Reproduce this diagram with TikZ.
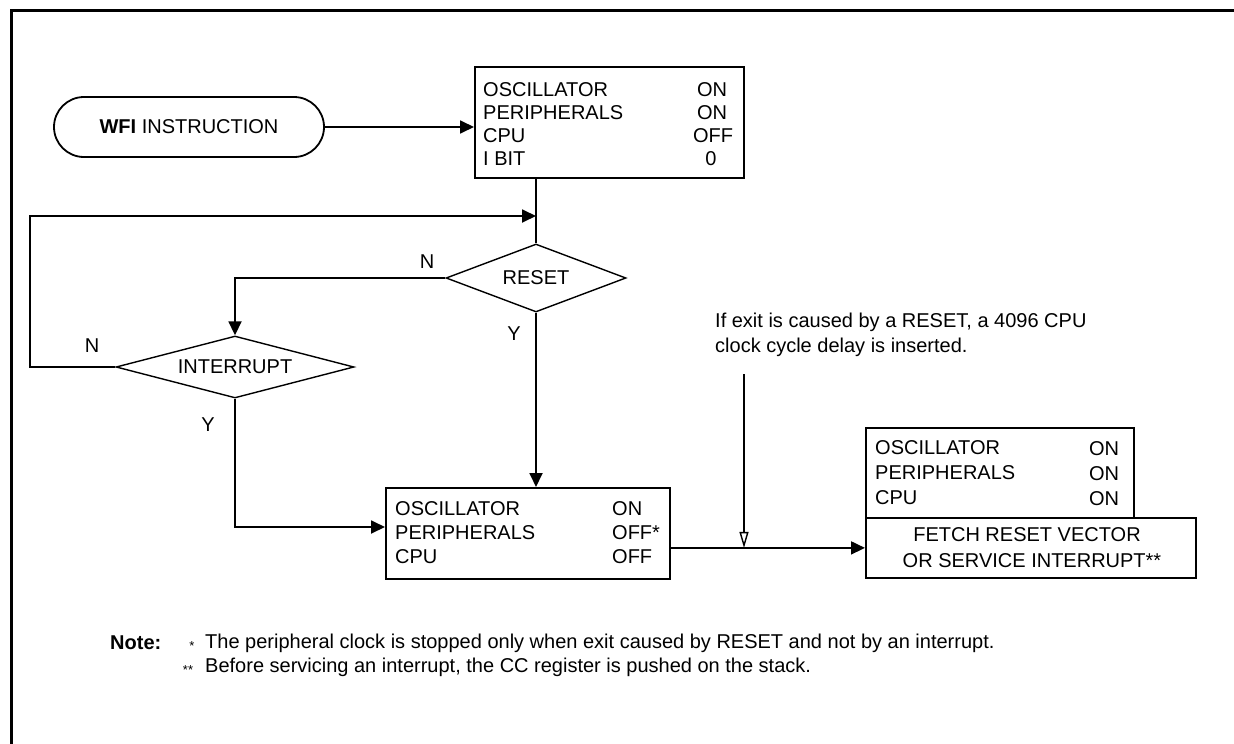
\documentclass[tikz,border=0pt]{standalone}
\usepackage{fontspec}
\setmainfont{Liberation Sans}
\usetikzlibrary{shapes.geometric,shapes.misc,arrows.meta}
\begin{document}
\begin{tikzpicture}[x=1pt,y=-1pt,
  font=\fontsize{20}{24}\selectfont,
  ln/.style={line width=1.8pt},
  arr/.style={ln,-{Triangle[length=14pt,width=13pt]}},
  oarr/.style={ln,-{Triangle[open,length=16pt,width=9pt,fill=white,line width=1.4pt]}},
  box/.style={draw,line width=1.8pt,inner sep=0pt,anchor=north west},
  dia/.style={draw,diamond,line width=1.4pt,inner sep=0pt},
  lbl/.style={anchor=west,inner sep=0pt},
  val/.style={inner sep=0pt},
  star/.style={inner sep=0pt,font=\fontsize{13}{13}\selectfont},
]
\useasboundingbox (0,0) rectangle (1234,744);
\draw[line width=3pt] (11,744) -- (11,10) -- (1234,10);

% start terminal
\node[draw,ln,rounded rectangle,minimum width=270pt,minimum height=60pt,inner sep=0pt] (wfi) at (189,127) {\textbf{WFI} INSTRUCTION};

% box 1
\node[box,minimum width=269pt,minimum height=111pt] (b1) at (474,66) {};
\node[lbl] (b1a) at (483,90) {OSCILLATOR};
\node[lbl] (b1b) at (483,113) {PERIPHERALS};
\node[lbl] (b1c) at (483,136) {CPU};
\node[lbl] (b1d) at (483,159) {I BIT};
\node[val] (b1av) at (712,90) {ON};
\node[val] (b1bv) at (712,113) {ON};
\node[val] (b1cv) at (713,136) {OFF};
\node[val] (b1dv) at (711,159) {0};

% decisions
\node[dia,aspect=2.6,minimum width=180pt,minimum height=68pt] (rst) at (536,278) {RESET};
\node[dia,aspect=3.8,minimum width=238pt,minimum height=62pt] (int) at (235,367) {INTERRUPT};

% box 2
\node[box,minimum width=284pt,minimum height=91pt] (b2) at (385,487) {};
\node[lbl] (b2a) at (395,509) {OSCILLATOR};
\node[lbl] (b2b) at (395,533) {PERIPHERALS};
\node[lbl] (b2c) at (395,557) {CPU};
\node[lbl] (b2av) at (612,509) {ON};
\node[lbl] (b2bv) at (612,533) {OFF*};
\node[lbl] (b2cv) at (612,557) {OFF};

% box 3
\node[box,minimum width=268pt,minimum height=90pt] (b3u) at (865,427) {};
\node[box,minimum width=330pt,minimum height=60pt] (b3l) at (865,517) {};
\node[lbl] (b3a) at (875,448) {OSCILLATOR};
\node[lbl] (b3b) at (875,473) {PERIPHERALS};
\node[lbl] (b3c) at (875,498) {CPU};
\node[val] (b3av) at (1104,449) {ON};
\node[val] (b3bv) at (1104,474) {ON};
\node[val] (b3cv) at (1104,499) {ON};
\node[val] (b3t1) at (1027,535) {FETCH RESET VECTOR};
\node[val] (b3t2) at (1032,561) {OR SERVICE INTERRUPT**};

% connectors
\draw[arr] (wfi.east) -- (wfi.east -| b1.west);
\draw[ln] (rst.north |- b1.south) -- (rst.north);
\coordinate (loopc) at (30,216);
\draw[arr] (int.west) -| (loopc) -- (loopc -| rst.north);
\draw[arr] (rst.west) -| (int.north);
\draw[arr] (rst.south) -- (rst.south |- b2.north);
\coordinate (in2) at (385,527);
\draw[arr] (int.south) |- (in2);
\draw[arr] (b2.east |- b3l.west) -- (b3l.west);
\coordinate (an) at (744,374);
\draw[oarr] (an) -- (an |- b3l.west);

% branch labels
\node[val] (n1) at (427,262) {N};
\node[val] (y1) at (514,334) {Y};
\node[val] (n2) at (92,346) {N};
\node[val] (y2) at (208,425) {Y};

% annotation
\node[lbl] (ann1) at (715,322) {If exit is caused by a RESET, a 4096 CPU};
\node[lbl] (ann2) at (715,347) {clock cycle delay is inserted.};

% notes
\node[lbl] (note) at (110,643) {\textbf{Note:}};
\node[star] (s1) at (192,646) {*};
\node[lbl] (nt1) at (205,643) {The peripheral clock is stopped only when exit caused by RESET and not by an interrupt.};
\node[star] (s2) at (188,670) {**};
\node[lbl] (nt2) at (205,667) {Before servicing an interrupt, the CC register is pushed on the stack.};
\end{tikzpicture}
\end{document}
